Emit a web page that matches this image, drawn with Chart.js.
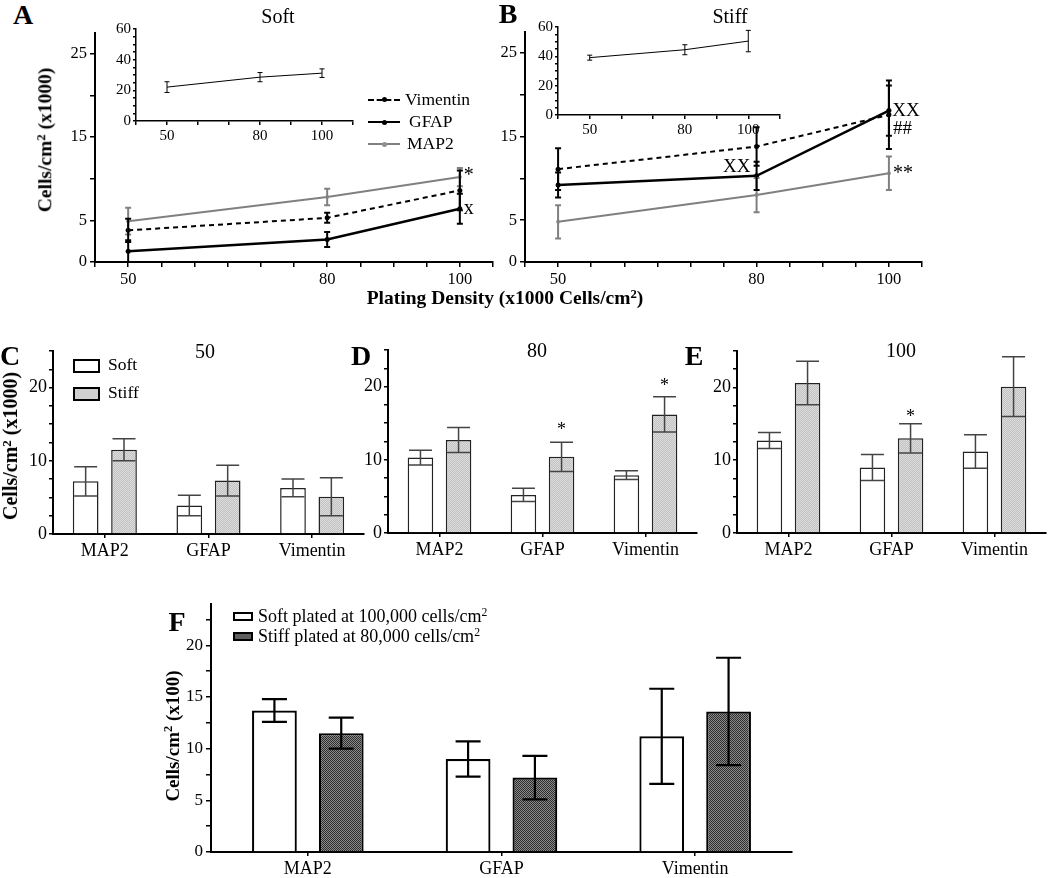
<!DOCTYPE html>
<html>
<head>
<meta charset="utf-8">
<script src="https://cdn.jsdelivr.net/npm/chart.js@4.4.1/dist/chart.umd.min.js"></script>
<style>
body { margin: 0; background: #fff; }
#fig { position: relative; width: 1050px; height: 878px; overflow: hidden; font-family: 'Liberation Serif', 'Times New Roman', serif; color: #000; }
#fig canvas { position: absolute; }
.t { position: absolute; white-space: nowrap; line-height: 1; transform: translate(-50%, -50%); }
.l { position: absolute; white-space: nowrap; line-height: 1; transform: translate(0, -50%); }
.letter { font-weight: bold; font-size: 28px; }
.ttl { font-size: 20px; }
.yt { font-weight: bold; transform: translate(-50%, -50%) rotate(-90deg); }
.yt sup, .xt sup, .l sup { font-size: 0.65em; vertical-align: 0.5em; line-height: 0; }
.xt { font-weight: bold; font-size: 19.5px; }
.seg { position: absolute; height: 0; }
.dot { position: absolute; width: 5px; height: 5px; border-radius: 50%; }
.box { position: absolute; box-sizing: border-box; }
</style>
</head>
<body>
<div id="fig">
  <canvas id="chartA"></canvas>
  <canvas id="chartB"></canvas>
  <canvas id="insetA"></canvas>
  <canvas id="insetB"></canvas>
  <canvas id="chartC"></canvas>
  <canvas id="chartD"></canvas>
  <canvas id="chartE"></canvas>
  <canvas id="chartF"></canvas>

  <div class="t letter" style="left:23px;top:15px">A</div>
  <div class="t ttl" style="left:278px;top:16px">Soft</div>
  <div class="t letter" style="left:508px;top:14px">B</div>
  <div class="t ttl" style="left:730px;top:16px">Stiff</div>
  <div class="t yt" style="left:45px;top:140px;font-size:19.5px">Cells/cm<sup>2</sup> (x1000)</div>
  <div class="t xt" style="left:505px;top:298px">Plating Density (x1000 Cells/cm<sup>2</sup>)</div>

  <!-- legend A -->
  <div class="seg" style="left:368px;top:99px;width:32px;border-top:2px dashed #000"></div>
  <div class="dot" style="left:382px;top:97px;background:#000"></div>
  <div class="l" style="left:405px;top:100px;font-size:17.5px">Vimentin</div>
  <div class="seg" style="left:368px;top:121px;width:32px;border-top:2.5px solid #000"></div>
  <div class="dot" style="left:382px;top:120px;background:#000"></div>
  <div class="l" style="left:409px;top:122px;font-size:17.5px">GFAP</div>
  <div class="seg" style="left:368px;top:143px;width:32px;border-top:2px solid #808080"></div>
  <div class="dot" style="left:382px;top:142px;background:#909090"></div>
  <div class="l" style="left:407px;top:144px;font-size:17.5px">MAP2</div>

  <div class="t letter" style="left:10px;top:356px">C</div>
  <div class="t ttl" style="left:205px;top:351px">50</div>
  <div class="t letter" style="left:361px;top:356px">D</div>
  <div class="t ttl" style="left:537px;top:350px">80</div>
  <div class="t letter" style="left:694px;top:356px">E</div>
  <div class="t ttl" style="left:901px;top:350px">100</div>
  <div class="t yt" style="left:10px;top:446px;font-size:20px">Cells/cm<sup>2</sup> (x1000)</div>

  <!-- legend C -->
  <div class="box" style="left:73px;top:359px;width:27px;height:14px;border:2.5px solid #000;background:#fff"></div>
  <div class="l" style="left:108px;top:365px;font-size:17.5px">Soft</div>
  <div class="box" style="left:73px;top:387px;width:27px;height:14px;border:2.5px solid #000;background:#cfcfcf"></div>
  <div class="l" style="left:108px;top:393px;font-size:17.5px">Stiff</div>

  <div class="t letter" style="left:177px;top:622px">F</div>
  <div class="t yt" style="left:172px;top:736px;font-size:19px">Cells/cm<sup>2</sup> (x100)</div>
  <!-- legend F -->
  <div class="box" style="left:233px;top:612px;width:20px;height:9px;border:2px solid #000;background:#fff"></div>
  <div class="l" style="left:258px;top:616px;font-size:18px">Soft plated at 100,000 cells/cm<sup>2</sup></div>
  <div class="box" style="left:233px;top:632px;width:20px;height:9px;border:2px solid #000;background:#5e5e5e"></div>
  <div class="l" style="left:258px;top:636px;font-size:18px">Stiff plated at 80,000 cells/cm<sup>2</sup></div>
</div>

<script>
// plating densities (x1000 cells/cm2)
const densities = [50, 80, 100];

// A: soft substrate
const softVimentin = [3.8, 5.3, 8.6];
const softVimentinErr = [1.4, 0.6, 2.4];
const softGFAP = [1.3, 2.7, 6.4];
const softGFAPErr = [1.3, 0.9, 1.8];
const softMAP2 = [4.9, 7.8, 10.2];
const softMAP2Err = [1.6, 1.0, 1.1];
const softTotal = [22.1, 28.6, 31.2];
const softTotalErr = [3.5, 3.0, 2.8];

// B: stiff substrate
const stiffVimentin = [11.1, 13.8, 17.6];
const stiffVimentinErr = [2.5, 2.3, 4.1];
const stiffGFAP = [9.2, 10.3, 18.1];
const stiffGFAPErr = [1.5, 1.7, 3.0];
const stiffMAP2 = [4.8, 8.0, 10.6];
const stiffMAP2Err = [2.0, 2.05, 2.0];
const stiffTotal = [39.1, 44.5, 50.4];
const stiffTotalErr = [1.7, 3.4, 7.3];

// C-F: per marker
const markers = ['MAP2', 'GFAP', 'Vimentin'];
const soft50 = [7.2, 3.9, 6.3];
const soft50Err = [2.0, 1.4, 1.2];
const stiff50 = [11.5, 7.3, 5.1];
const stiff50Err = [1.5, 2.1, 2.6];
const soft80 = [10.3, 5.2, 7.9];
const soft80Err = [1.0, 0.9, 0.6];
const stiff80 = [12.7, 10.4, 16.2];
const stiff80Err = [1.7, 2.0, 2.4];
const soft100 = [12.7, 9.0, 11.2];
const soft100Err = [1.1, 1.8, 2.3];
const stiff100 = [20.6, 13.0, 20.1];
const stiff100Err = [3.0, 2.0, 4.1];
const softAt100k = [13.7, 9.0, 11.2];
const softAt100kErr = [1.1, 1.7, 4.6];
const stiffAt80k = [11.5, 7.2, 13.6];
const stiffAt80kErr = [1.5, 2.1, 5.2];

const FONT = "'Liberation Serif', 'Times New Roman', serif";

// draws mean +/- error whiskers on top of each dataset
const errorBars = {
    id: 'errorBars',
    afterDatasetsDraw(chart) {
        const ctx = chart.ctx;
        const yScale = chart.scales.y;
        chart.data.datasets.forEach((ds, i) => {
            if (!ds.errors) return;
            const meta = chart.getDatasetMeta(i);
            ctx.save();
            ctx.strokeStyle = ds.errorColor || '#000';
            ctx.lineWidth = ds.errorWidth || 1;
            meta.data.forEach((el, j) => {
                const raw = ds.data[j];
                const v = typeof raw === 'object' ? raw.y : raw;
                const top = yScale.getPixelForValue(v + ds.errors[j]);
                const bot = yScale.getPixelForValue(Math.max(v - ds.errors[j], 0));
                const x = el.x;
                const cap = (ds.capWidth || 6) / 2;
                ctx.beginPath();
                ctx.moveTo(x, top); ctx.lineTo(x, bot);
                ctx.moveTo(x - cap, top); ctx.lineTo(x + cap, top);
                ctx.moveTo(x - cap, bot); ctx.lineTo(x + cap, bot);
                ctx.stroke();
            });
            ctx.restore();
        });
    }
};

// significance marks (*, x, ##) placed in data coordinates
const sigMarks = {
    id: 'sigMarks',
    afterDatasetsDraw(chart, args, opts) {
        const items = opts.items || [];
        const ctx = chart.ctx;
        ctx.save();
        ctx.fillStyle = '#000';
        ctx.textBaseline = 'middle';
        items.forEach(m => {
            let x;
            if (m.ds !== undefined) {
                x = chart.getDatasetMeta(m.ds).data[m.index].x;
            } else {
                x = chart.scales.x.getPixelForValue(m.x);
            }
            const y = chart.scales.y.getPixelForValue(m.y);
            ctx.font = (m.size || 18) + 'px ' + FONT;
            ctx.textAlign = m.align || 'center';
            ctx.fillText(m.text, x, y);
        });
        ctx.restore();
    }
};

function place(id, g) {
    const c = document.getElementById(id);
    c.width = Math.round(g.right - g.left + g.yw + g.pr);
    c.height = Math.round(g.bottom - g.top + g.pt + g.xh);
    c.style.left = Math.round(g.left - g.yw) + 'px';
    c.style.top = Math.round(g.top - g.pt) + 'px';
    return c;
}

function stipple(c1, c2) {
    const p = document.createElement('canvas');
    p.width = 2; p.height = 2;
    const g = p.getContext('2d');
    g.fillStyle = c1; g.fillRect(0, 0, 2, 2);
    g.fillStyle = c2; g.fillRect(0, 0, 1, 1); g.fillRect(1, 1, 1, 1);
    return g.createPattern(p, 'repeat');
}

function valueAxis(min, max, step, labelled, size, g, bw, tick) {
    const t = tick || { len: 5, pad: 3 };
    return {
        type: 'linear', min: min, max: max,
        border: { display: true, color: '#000', width: bw },
        grid: { display: true, drawOnChartArea: false, drawTicks: true, tickLength: t.len, color: '#000', lineWidth: 1.5 },
        ticks: {
            stepSize: step, includeBounds: false, autoSkip: false, maxRotation: 0,
            color: '#000', padding: t.pad, font: { family: FONT, size: size },
            callback: v => labelled.includes(v) ? String(v) : ''
        },
        afterFit: s => { s.height = g.xh; }
    };
}

function yAxisFor(min, max, step, labelled, size, g, bw, tick) {
    const ax = valueAxis(min, max, step, labelled, size, g, bw, tick);
    ax.afterFit = s => { s.width = g.yw; };
    return ax;
}

function xy(values) {
    return densities.map((d, i) => ({ x: d, y: values[i] }));
}

function lineChart(id, g, vim, vimErr, gfap, gfapErr, map2, map2Err, marks) {
    const canvas = place(id, g);
    return new Chart(canvas, {
        type: 'line',
        data: {
            datasets: [
                { label: 'MAP2', data: xy(map2), errors: map2Err, errorColor: '#808080', errorWidth: 2, capWidth: 6,
                  borderColor: '#808080', borderWidth: 2, pointRadius: 2, pointBackgroundColor: '#909090', pointBorderWidth: 0 },
                { label: 'Vimentin', data: xy(vim), errors: vimErr, errorColor: '#000', errorWidth: 2, capWidth: 6,
                  borderColor: '#000', borderWidth: 2, borderDash: [5, 4], pointRadius: 2.5, pointBackgroundColor: '#000', pointBorderWidth: 0 },
                { label: 'GFAP', data: xy(gfap), errors: gfapErr, errorColor: '#000', errorWidth: 2, capWidth: 6,
                  borderColor: '#000', borderWidth: 2.5, pointRadius: 2.5, pointBackgroundColor: '#000', pointBorderWidth: 0 }
            ]
        },
        options: {
            responsive: false, animation: false,
            layout: { padding: { top: g.pt, right: g.pr, left: 0, bottom: 0 } },
            plugins: { legend: { display: false }, tooltip: { enabled: false }, sigMarks: { items: marks } },
            scales: {
                x: valueAxis(45, 105, 5, [50, 80, 100], 16.5, g, 2),
                y: yAxisFor(0, 27.5, 5, [0, 5, 15, 25], 16.5, g, 2)
            }
        },
        plugins: [errorBars, sigMarks]
    });
}

function insetChart(id, g, total, totalErr) {
    const canvas = place(id, g);
    return new Chart(canvas, {
        type: 'line',
        data: {
            datasets: [
                { label: 'Total', data: xy(total), errors: totalErr, errorColor: '#000', errorWidth: 1, capWidth: 5,
                  borderColor: '#000', borderWidth: 1, pointRadius: 0 }
            ]
        },
        options: {
            responsive: false, animation: false,
            layout: { padding: { top: g.pt, right: g.pr, left: 0, bottom: 0 } },
            plugins: { legend: { display: false }, tooltip: { enabled: false } },
            scales: {
                x: valueAxis(40, 110, 10, [50, 80, 100], 15, g, 1.5, { len: 4, pad: 2 }),
                y: yAxisFor(0, 60, 5, [0, 20, 40, 60], 15, g, 1.5, { len: 3, pad: 2 })
            }
        },
        plugins: [errorBars]
    });
}

function barChart(id, g, soft, softErr, stiff, stiffErr, style, marks) {
    const canvas = place(id, g);
    const x = {
        type: 'category',
        offset: true,
        border: { display: true, color: '#000', width: 2 },
        grid: { display: true, offset: false, drawOnChartArea: false, drawTicks: true, tickLength: 4, color: '#000', lineWidth: 1.5 },
        ticks: { color: '#000', padding: 2, font: { family: FONT, size: 18 } },
        afterFit: s => { s.height = g.xh; }
    };
    const common = { categoryPercentage: style.cat, barPercentage: 0.67, borderWidth: style.bw, borderColor: style.edge,
                     errorColor: style.errColor, errorWidth: style.errWidth, capWidth: style.cap };
    return new Chart(canvas, {
        type: 'bar',
        data: {
            labels: markers,
            datasets: [
                Object.assign({ label: 'Soft', data: soft, errors: softErr, backgroundColor: '#fff' }, common),
                Object.assign({ label: 'Stiff', data: stiff, errors: stiffErr, backgroundColor: style.fill }, common)
            ]
        },
        options: {
            responsive: false, animation: false,
            layout: { padding: { top: g.pt, right: g.pr, left: 0, bottom: 0 } },
            plugins: { legend: { display: false }, tooltip: { enabled: false }, sigMarks: { items: marks || [] } },
            scales: {
                x: x,
                y: yAxisFor(0, g.ymax, 2.5, g.ylabels, g.yfont, g, 2, g.ytick)
            }
        },
        plugins: [errorBars, sigMarks]
    });
}

lineChart('chartA', { left: 95, top: 33, right: 493, bottom: 262, yw: 50, xh: 30, pt: 14, pr: 8 },
    softVimentin, softVimentinErr, softGFAP, softGFAPErr, softMAP2, softMAP2Err,
    [{ x: 100.6, y: 10.4, text: '*', align: 'left', size: 20 }, { x: 100.6, y: 6.4, text: 'x', align: 'left', size: 20 }]);

lineChart('chartB', { left: 525, top: 32, right: 922, bottom: 262, yw: 50, xh: 30, pt: 14, pr: 8 },
    stiffVimentin, stiffVimentinErr, stiffGFAP, stiffGFAPErr, stiffMAP2, stiffMAP2Err,
    [{ x: 77, y: 11.4, text: 'XX', size: 19 },
     { x: 100.5, y: 18.1, text: 'XX', align: 'left', size: 19 },
     { x: 100.6, y: 15.9, text: '##', align: 'left', size: 19 },
     { x: 100.6, y: 10.6, text: '**', align: 'left', size: 20 }]);

insetChart('insetA', { left: 136, top: 29, right: 353, bottom: 121, yw: 32, xh: 22, pt: 12, pr: 6 }, softTotal, softTotalErr);
insetChart('insetB', { left: 558, top: 27, right: 780, bottom: 115, yw: 32, xh: 22, pt: 12, pr: 6 }, stiffTotal, stiffTotalErr);

const lightStyle = { cat: 0.74, bw: 1.5, edge: '#222', fill: stipple('#c2c2c2', '#dcdcdc'), errColor: '#444', errWidth: 1.5, cap: 23 };
const darkStyle = { cat: 0.69, bw: 2.2, edge: '#000', fill: stipple('#2e2e2e', '#8a8a8a'), errColor: '#000', errWidth: 2.2, cap: 25 };
const smallTick = { len: 4, pad: 2 };

barChart('chartC', { left: 53, top: 351, right: 364, bottom: 534, yw: 40, xh: 30, pt: 14, pr: 6, ymax: 25, ylabels: [0, 10, 20], yfont: 18, ytick: smallTick },
    soft50, soft50Err, stiff50, stiff50Err, lightStyle);
barChart('chartD', { left: 388, top: 350, right: 697, bottom: 533, yw: 40, xh: 30, pt: 14, pr: 6, ymax: 25, ylabels: [0, 10, 20], yfont: 18, ytick: smallTick },
    soft80, soft80Err, stiff80, stiff80Err, lightStyle,
    [{ ds: 1, index: 1, y: 14.1, text: '*' }, { ds: 1, index: 2, y: 20.1, text: '*' }]);
barChart('chartE', { left: 737, top: 351, right: 1046, bottom: 533, yw: 40, xh: 30, pt: 14, pr: 3, ymax: 25, ylabels: [0, 10, 20], yfont: 18, ytick: smallTick },
    soft100, soft100Err, stiff100, stiff100Err, lightStyle,
    [{ ds: 1, index: 1, y: 15.9, text: '*' }]);
barChart('chartF', { left: 211, top: 604, right: 792, bottom: 852, yw: 40, xh: 26, pt: 14, pr: 6, ymax: 24, ylabels: [0, 5, 10, 15, 20], yfont: 17 },
    softAt100k, softAt100kErr, stiffAt80k, stiffAt80kErr, darkStyle);
</script>
</body>
</html>
